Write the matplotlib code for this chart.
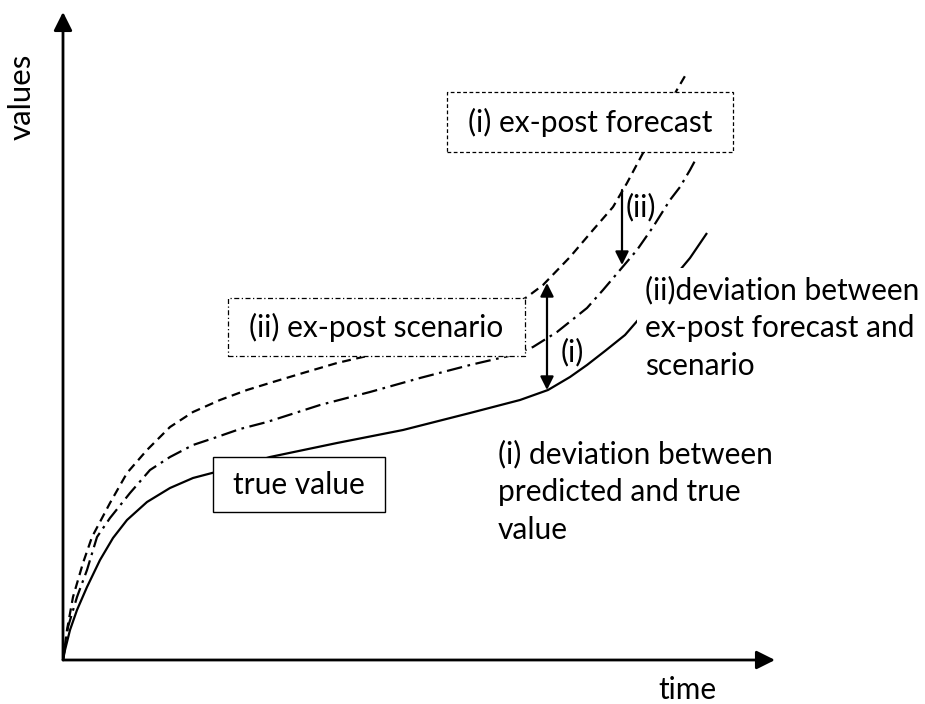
import numpy as np
import matplotlib.pyplot as plt
from matplotlib.patches import Rectangle, FancyArrowPatch

plt.rcParams['font.family'] = ['Lato', 'DejaVu Sans']

# curve points (time, value), origin at the axes corner
true_t = [0, 2, 7, 14, 24, 37, 50, 64, 84, 107, 130, 149, 177, 207, 274, 340, 407, 457, 485, 507, 524, 542, 562, 582, 602, 627, 644]
true_v = [0, 10, 30, 50, 73, 100, 122, 140, 158, 172, 182, 187, 194, 203, 217, 230, 247, 260, 270, 283, 295, 309, 325, 348, 372, 402, 427]

fc_t = [0, 4, 10, 20, 29, 47, 64, 84, 107, 130, 157, 184, 210, 240, 274, 304, 357, 407, 437, 464, 480, 507, 530, 550, 564, 580, 597, 615, 622]
fc_v = [0, 30, 63, 97, 123, 157, 187, 210, 233, 248, 260, 270, 278, 287, 297, 304, 318, 334, 346, 363, 375, 403, 430, 453, 477, 507, 540, 572, 584]

sc_t = [0, 5, 14, 24, 34, 47, 67, 87, 107, 130, 154, 177, 204, 257, 307, 357, 407, 450, 470, 494, 524, 540, 557, 574, 590, 607, 617, 627, 634]
sc_v = [0, 33, 63, 90, 123, 142, 167, 190, 203, 215, 223, 231, 238, 255, 268, 282, 295, 305, 313, 328, 352, 370, 390, 410, 433, 460, 473, 490, 503]

# deviation arrows (time, value from, value to)
dev_i = (484, 377, 270)
dev_ii = (559, 470, 395)

fs = 21.5

fig = plt.figure(figsize=(9.25, 7.04), dpi=100)
ax = fig.add_axes([0, 0, 1, 1])
ax.set_xlim(-63, 862)
ax.set_ylim(-44, 660)
ax.axis('off')

lw = 1.6
ax.plot(true_t, true_v, color='black', lw=lw, solid_capstyle='butt', solid_joinstyle='round', zorder=2)
ax.plot(fc_t, fc_v, color='black', lw=lw, dashes=(4, 2.5), zorder=2)
ax.plot(sc_t, sc_v, color='black', lw=lw, dashes=(7, 2.5, 1.2, 2.5), zorder=2)

# axes with arrow heads
ax.add_patch(FancyArrowPatch((0, 0), (0, 648), arrowstyle='-|>', mutation_scale=28,
                             color='black', lw=2, shrinkA=0, shrinkB=0, zorder=5))
ax.add_patch(FancyArrowPatch((0, 0), (712, 0), arrowstyle='-|>', mutation_scale=28,
                             color='black', lw=2, shrinkA=0, shrinkB=0, zorder=5))
ax.text(-41, 563, 'values', rotation=90, ha='center', va='center', fontsize=fs + 1)
ax.text(624, -30, 'time', ha='center', va='center', fontsize=fs)

# deviation arrows
ax.add_patch(FancyArrowPatch((dev_i[0], dev_i[2]), (dev_i[0], dev_i[1]), arrowstyle='<|-|>',
                             mutation_scale=20, color='black', lw=1.6, shrinkA=0, shrinkB=0, zorder=4))
ax.text(498, 308, '(i)', ha='left', va='center', fontsize=fs)
ax.add_patch(FancyArrowPatch((dev_ii[0], dev_ii[1]), (dev_ii[0], dev_ii[2]), arrowstyle='-|>',
                             mutation_scale=20, color='black', lw=1.6, shrinkA=0, shrinkB=0, zorder=4))
ax.text(563, 453, '(ii)', ha='left', va='center', fontsize=fs)

# label boxes
ax.add_patch(Rectangle((384, 508), 286, 60, facecolor='white', edgecolor='black',
                       lw=0.9, ls=(0, (3, 2)), zorder=6))
ax.text(527, 538, '(i) ex-post forecast', ha='center', va='center', fontsize=fs, zorder=7)

ax.add_patch(Rectangle((165, 304), 297, 58, facecolor='white', edgecolor='black',
                       lw=0.9, ls=(0, (4, 2, 1, 2)), zorder=6))
ax.text(313, 333, '(ii) ex-post scenario', ha='center', va='center', fontsize=fs, zorder=7)

ax.add_patch(Rectangle((150, 148), 172, 55, facecolor='white', edgecolor='black',
                       lw=1, zorder=6))
ax.text(236, 175, 'true value', ha='center', va='center', fontsize=fs, zorder=7)

ax.text(582, 332, '(ii)deviation between\nex-post forecast and\nscenario', ha='left', va='center',
        fontsize=fs, linespacing=1.42, zorder=7,
        bbox=dict(facecolor='white', edgecolor='none', pad=6))
ax.text(435, 168, '(i) deviation between\npredicted and true\nvalue', ha='left', va='center',
        fontsize=fs, linespacing=1.42, zorder=7)

fig.savefig('out.png', dpi=100)
